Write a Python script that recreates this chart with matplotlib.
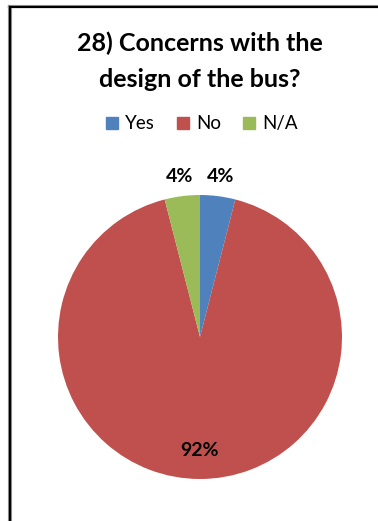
import matplotlib
matplotlib.use('Agg')
import matplotlib.pyplot as plt
from matplotlib.lines import Line2D
import numpy as np

plt.rcParams['font.family'] = ['Lato', 'DejaVu Sans']

title = '28) Concerns with the\ndesign of the bus?'
categories = ['Yes', 'No', 'N/A']
shares = [4, 92, 4]
colors = ['#4F81BD', '#C0504D', '#9BBB59']

W, H = 378, 521
fig = plt.figure(figsize=(W / 100, H / 100), dpi=100)

# pie area: 284 px square centred at (200, 337) from top-left
r_px = 142
ax = fig.add_axes([(200 - r_px) / W, (H - 337 - r_px) / H, 2 * r_px / W, 2 * r_px / H])
wedges, _ = ax.pie(shares, colors=colors, startangle=90, counterclock=False,
                   radius=1, wedgeprops=dict(linewidth=0))
ax.set_xlim(-1, 1)
ax.set_ylim(-1, 1)
ax.set_aspect('equal')
ax.axis('off')

# percentage labels: big slice inside, small slices just outside the rim
for w, v in zip(wedges, shares):
    mid = np.deg2rad((w.theta1 + w.theta2) / 2)
    dist = 0.8 if v > 50 else 1.14
    ax.text(dist * np.cos(mid), dist * np.sin(mid), f'{v}%', ha='center', va='center',
            fontsize=14, fontweight='bold', color='#000000')

fig.text(200 / W, 1 - 61 / H, title, ha='center', va='center', fontsize=18,
         fontweight='bold', linespacing=1.68)

handles = [plt.Rectangle((0, 0), 1, 1, color=c) for c in colors]
fig.legend(handles, categories, loc='center', bbox_to_anchor=(202 / W, 1 - 124 / H),
           ncol=3, frameon=False, fontsize=13.5, handlelength=0.65, handleheight=0.65,
           handletextpad=0.4, columnspacing=1.15)

# chart frame: only the top and left edges are drawn
fig.add_artist(Line2D([8 / W, 1], [1 - 5 / H, 1 - 5 / H], color='#999999', lw=0.8))
fig.add_artist(Line2D([9 / W, 1], [1 - 6.5 / H, 1 - 6.5 / H], color='#000000', lw=1.6))
fig.add_artist(Line2D([8 / W, 8 / W], [0, 1 - 5 / H], color='#999999', lw=0.8))
fig.add_artist(Line2D([9.8 / W, 9.8 / W], [0, 1 - 6.5 / H], color='#000000', lw=1.6))
fig.add_artist(Line2D([11.2 / W, 11.2 / W], [0, 1 - 7.5 / H], color='#888888', lw=0.8))

fig.savefig('out.png', dpi=100)
